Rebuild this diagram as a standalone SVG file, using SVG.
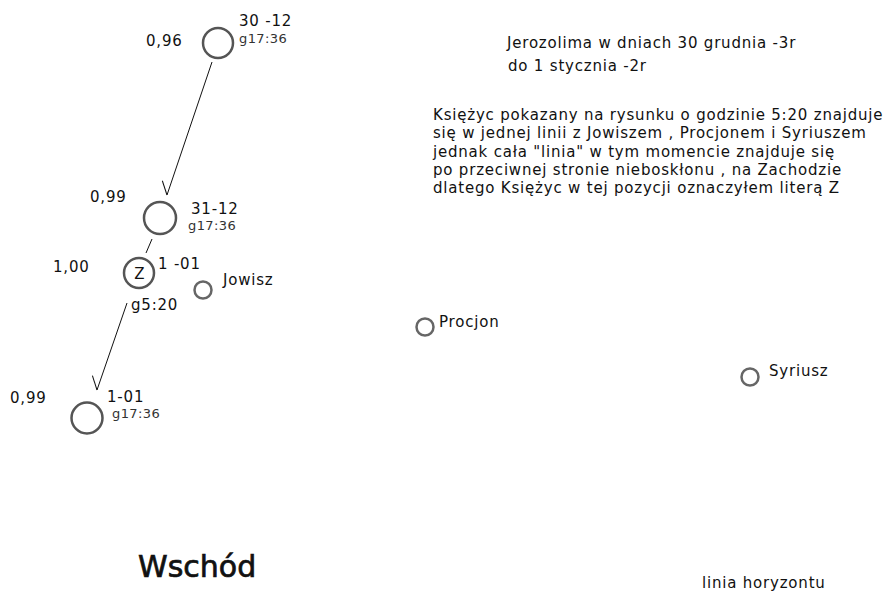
<svg xmlns="http://www.w3.org/2000/svg" width="885" height="594" viewBox="0 0 885 594">
<style>
text{font-family:"DejaVu Sans",Verdana,sans-serif;fill:#111}
.lbl{font-size:15px;letter-spacing:0.8px}
.time{font-size:13px;letter-spacing:0.4px;fill:#333}
.note{font-size:15px;letter-spacing:0.8px}
.big{font-size:30px;stroke:#111;stroke-width:0.7px}
.moon{fill:#fff;stroke:#555;stroke-width:2.5}
.star{fill:#fff;stroke:#666;stroke-width:2.5}
.conn{stroke:#111;stroke-width:1;fill:none}
</style>
<defs>
<marker id="barb" markerUnits="userSpaceOnUse" orient="auto" markerWidth="30" markerHeight="30" refX="15" refY="15" viewBox="0 0 30 30" overflow="visible">
<path d="M15,15 L3,24" stroke="#111" stroke-width="1" fill="none"/>
</marker>
</defs>
<rect width="885" height="594" fill="#fff"/>
<g id="connectors">
<line class="conn" x1="212" y1="62" x2="167" y2="195" marker-end="url(#barb)"/>
<line class="conn" x1="152" y1="239" x2="146" y2="253"/>
<line class="conn" x1="127" y1="303" x2="97" y2="390" marker-end="url(#barb)"/>
</g>
<g id="moon-30-12">
<circle class="moon" cx="218" cy="43" r="15"/>
<text class="lbl" x="146" y="46">0,96</text>
<text class="lbl" x="239" y="26">30 -12</text>
<text class="time" x="239" y="43">g17:36</text>
</g>
<g id="moon-31-12">
<circle class="moon" cx="160" cy="218" r="16"/>
<text class="lbl" x="90" y="202">0,99</text>
<text class="lbl" x="191" y="214">31-12</text>
<text class="time" x="188" y="230">g17:36</text>
</g>
<g id="moon-z">
<circle class="moon" cx="139" cy="273" r="15"/>
<text class="lbl" x="139.5" y="279" text-anchor="middle" style="letter-spacing:0">Z</text>
<text class="lbl" x="53" y="272">1,00</text>
<text class="lbl" x="158" y="269">1 -01</text>
<text class="lbl" x="131" y="310">g5:20</text>
</g>
<g id="jowisz">
<circle class="star" cx="203" cy="290" r="8.5"/>
<text class="lbl" x="223" y="285">Jowisz</text>
</g>
<g id="moon-1-01">
<circle class="moon" cx="87" cy="418" r="15.5"/>
<text class="lbl" x="10" y="403">0,99</text>
<text class="lbl" x="107" y="402">1-01</text>
<text class="time" x="112" y="418">g17:36</text>
</g>
<g id="procjon">
<circle class="star" cx="425" cy="327" r="8.5"/>
<text class="lbl" x="439" y="327">Procjon</text>
</g>
<g id="syriusz">
<circle class="star" cx="750" cy="377" r="8.5"/>
<text class="lbl" x="769" y="376">Syriusz</text>
</g>
<g id="title">
<text class="note" x="507" y="48">Jerozolima w dniach 30 grudnia -3r</text>
<text class="note" x="508" y="71">do 1 stycznia -2r</text>
</g>
<g id="description">
<text class="note" x="433" y="120">Księżyc pokazany na rysunku o godzinie 5:20 znajduje</text>
<text class="note" x="433" y="138">się w jednej linii z Jowiszem , Procjonem i Syriuszem</text>
<text class="note" x="433" y="157">jednak cała "linia" w tym momencie znajduje się</text>
<text class="note" x="433" y="175">po przeciwnej stronie nieboskłonu , na Zachodzie</text>
<text class="note" x="433" y="193">dlatego Księżyc w tej pozycji oznaczyłem literą Z</text>
</g>
<g id="wschod">
<text class="big" x="138" y="577">Wschód</text>
</g>
<g id="horyzont">
<text class="lbl" x="702" y="588">linia horyzontu</text>
</g>
</svg>
